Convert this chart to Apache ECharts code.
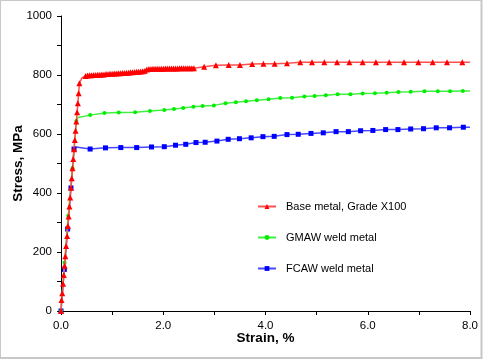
<!DOCTYPE html>
<html>
<head>
<meta charset="utf-8">
<script src="https://cdn.jsdelivr.net/npm/echarts@6/dist/echarts.min.js"></script>
<style>
html,body{margin:0;padding:0;background:#fff;}
#c{width:483px;height:360px;}
</style>
</head>
<body>
<div id="c"></div>
<script>
// ---- data (strain %, stress MPa) ----
var seriesNames = ['Base metal, Grade X100', 'GMAW weld metal', 'FCAW weld metal'];

var baseStrain = [0, 0.01, 0.025, 0.04, 0.055, 0.07, 0.085, 0.10, 0.12, 0.135, 0.15, 0.165, 0.18, 0.195, 0.21, 0.225, 0.24, 0.255, 0.27, 0.285, 0.30, 0.315, 0.33, 0.345, 0.36, 0.41,
  0.48,0.52,0.56,0.60,0.64,0.68,0.72,0.76,0.80,0.84,0.88,0.92,0.96,1.00,1.04,1.08,1.12,1.16,1.20,1.24,1.28,1.32,1.36,1.40,1.44,1.48,1.52,1.56,1.60,1.64,
  1.68,1.72,1.76,1.80,1.84,1.88,1.92,1.96,2.00,2.04,2.08,2.12,2.16,2.20,2.24,2.28,2.32,2.36,2.40,2.44,2.48,2.52,2.56,2.60,
  2.80,3.03,3.28,3.50,3.74,3.96,4.18,4.42,4.68,4.91,5.15,5.40,5.64,5.90,6.16,6.42,6.71,6.99,7.27,7.55,7.85,8.00];
var baseStress = [0, 37, 60, 92, 122, 153, 186, 220, 254, 288, 320, 354, 385, 418, 450, 484, 515, 548, 580, 611, 642, 674, 704, 738, 772, 790,
  797,798,799,799,800,800,801,801,802,802,803,803,804,804,805,805,806,806,807,807,808,808,809,809,810,811,811,812,813,814,
  819,820,820,821,821,821,821,821,821,822,822,822,822,822,822,822,823,823,823,823,823,823,823,823,
  828,833,834,834,837,838,838,840,843,843,843,843,843,843,843,843,843,843,843,843,843,843];
var baseHidden = [0.41, 8.00];

var gmawStrain = [0, 0.07, 0.14, 0.225, 0.30, 0.33,
  0.57,0.85,1.13,1.45,1.74,2.02,2.21,2.39,2.59,2.77,2.99,3.22,3.42,3.62,3.83,4.06,4.29,4.52,4.76,4.96,5.18,5.41,5.66,5.90,6.14,6.37,6.60,6.84,7.11,7.37,7.61,7.86,8.00];
var gmawStress = [0, 164, 323, 484, 644, 656,
  664,671,673,674,678,681,685,688,692,695,697,704,708,711,714,718,722,723,727,729,731,735,735,737,738,740,742,743,745,745,745,746,746];
var gmawHidden = [0.33, 8.00];

var fcawStrain = [0, 0.065, 0.13, 0.195, 0.255, 0.29,
  0.57,0.87,1.17,1.48,1.77,2.02,2.24,2.44,2.64,2.82,3.05,3.27,3.49,3.72,3.95,4.17,4.42,4.64,4.89,5.13,5.38,5.62,5.86,6.10,6.35,6.59,6.84,7.09,7.34,7.60,7.87,8.00];
var fcawStress = [0, 141, 278, 417, 549, 556,
  549,553,554,554,556,557,562,565,571,572,576,582,584,587,591,592,598,599,602,604,608,608,611,612,615,615,617,618,621,621,623,623];
var fcawHidden = [0.29, 8.00];

var xTicks = ['0.0', '2.0', '4.0', '6.0', '8.0'];
var yTicks = ['0', '200', '400', '600', '800', '1000'];

function build(xs, ys, hidden) {
  return xs.map(function (x, i) {
    var item = { value: [x, ys[i]] };
    if (hidden.indexOf(x) >= 0) item.symbol = 'none';
    return item;
  });
}

var chart = echarts.init(document.getElementById('c'));
var font = 'Arial, "Liberation Sans", sans-serif';

chart.setOption({
  animation: false,
  backgroundColor: '#fff',
  graphic: [{
    type: 'rect', silent: true, z: 100,
    shape: { x: 0, y: 0, width: 481.5, height: 358 },
    style: { fill: 'none', stroke: '#c8c8c8', lineWidth: 2 }
  }],
  grid: { left: 61, right: 13, top: 16, bottom: 49, containLabel: false, outerBoundsMode: 'none' },
  legend: {
    orient: 'vertical',
    left: 252,
    top: 196,
    itemWidth: 18,
    itemHeight: 6,
    itemGap: 20,
    textStyle: { fontFamily: font, fontSize: 11, color: '#000', padding: [0, 0, 0, 5] },
    data: seriesNames
  },
  xAxis: {
    type: 'value', min: 0, max: 8, interval: 1,
    name: 'Strain, %', nameLocation: 'middle', nameGap: 20, nameMoveOverlap: false,
    nameTextStyle: { fontFamily: font, fontSize: 13.5, fontWeight: 'bold', color: '#000' },
    axisLine: { lineStyle: { color: '#000', width: 1 } },
    axisTick: { length: 4, lineStyle: { color: '#000' } },
    axisLabel: {
      fontFamily: font, fontSize: 11.5, color: '#000', margin: 9,
      formatter: function (v) { var s = v.toFixed(1); return xTicks.indexOf(s) >= 0 ? s : ''; }
    },
    splitLine: { show: false }
  },
  yAxis: {
    type: 'value', min: 0, max: 1000, interval: 100,
    name: 'Stress, MPa', nameLocation: 'middle', nameGap: 36, nameRotate: 90, nameMoveOverlap: false,
    nameTextStyle: { fontFamily: font, fontSize: 13.5, fontWeight: 'bold', color: '#000' },
    axisLine: { show: true, lineStyle: { color: '#000', width: 1 } },
    axisTick: { show: true, length: 4, lineStyle: { color: '#000' } },
    axisLabel: {
      fontFamily: font, fontSize: 11.5, color: '#000', margin: 9,
      formatter: function (v) { var s = String(v); return yTicks.indexOf(s) >= 0 ? s : ''; }
    },
    splitLine: { show: false }
  },
  series: [
    {
      name: seriesNames[0], type: 'line', data: build(baseStrain, baseStress, baseHidden),
      symbol: 'triangle', symbolSize: 6, showAllSymbol: true, z: 4,
      lineStyle: { color: '#ff5050', width: 1.5 },
      itemStyle: { color: '#ff0000', borderWidth: 0 }
    },
    {
      name: seriesNames[1], type: 'line', data: build(gmawStrain, gmawStress, gmawHidden),
      symbol: 'circle', symbolSize: 4, showAllSymbol: true, z: 3,
      lineStyle: { color: '#40f040', width: 1.5 },
      itemStyle: { color: '#00ee00', borderWidth: 0 }
    },
    {
      name: seriesNames[2], type: 'line', data: build(fcawStrain, fcawStress, fcawHidden),
      symbol: 'rect', symbolSize: 5, showAllSymbol: true, z: 2,
      lineStyle: { color: '#4848ff', width: 1.5 },
      itemStyle: { color: '#0000ff', borderWidth: 0 }
    }
  ]
});
</script>
</body>
</html>
